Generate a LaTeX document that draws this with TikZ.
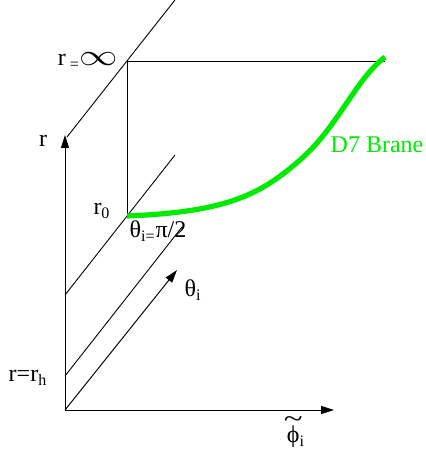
\documentclass[tikz,border=0pt]{standalone}
\usepackage{fontspec}
\setmainfont{Liberation Serif}
\usepackage{graphicx}
\usetikzlibrary{arrows.meta}
\definecolor{branegreen}{RGB}{0,235,0}
% wide tilde set above a glyph
\newcommand{\widetil}[1]{\ooalign{#1\cr\hidewidth\raisebox{0.62em}{\scalebox{1.45}[1.1]{\~{}}}\hidewidth\cr}}

\begin{document}
\begin{tikzpicture}[x=0.5pt, y=-0.5pt,
    % axes with filled triangular heads
    axis/.style={line width=0.5pt, -{Triangle[length=6.5pt,width=4pt]}},
    thinline/.style={line width=0.45pt},
    brane/.style={line width=2.6pt, draw=branegreen},
    lbl/.style={inner sep=0pt, font=\fontsize{12}{14}\selectfont}
]
\useasboundingbox (0,0) rectangle (425,454);

% 1. Points of the frame
\coordinate (O)      at (65,410);
\coordinate (rtip)   at (65,135);
\coordinate (phitip) at (334,410);
\coordinate (thtip)  at (177,270);
\coordinate (inf)    at (127,61);
\coordinate (infend) at (385,61);
\coordinate (r0)     at (127,216);

% 2. Axes r, phi and theta
\draw[axis] (O) -- (rtip);
\draw[axis] (O) -- (phitip);
\draw[axis] (O) -- (thtip);

% 3. Slanted lines at fixed r
\coordinate (ua) at (67,137);  \coordinate (ub) at (175,0);
\coordinate (ma) at (65,295);  \coordinate (mb) at (175,155);
\coordinate (la) at (65,376);  \coordinate (lb) at (182,227);
\draw[thinline] (ua) -- (ub);
\draw[thinline] (ma) -- (mb);
\draw[thinline] (la) -- (lb);

% 4. Box from r_0 up to r = infinity
\draw[thinline] (r0) -- (inf) -- (infend);

% 5. The D7 brane profile
\draw[brane] (r0) .. controls (230,212) and (262,193) .. (300,160)
                  .. controls (338,127) and (355,80) .. (385,57);

% 6. Labels
\node[lbl] (rlab)    at (43,141)  {r};
\node[lbl] (inflab)  at (88,61)   {r\,\textsubscript{=}\scalebox{1.6}[1.25]{$\infty$}};
\node[lbl] (r0lab)   at (102,211) {r\textsubscript{0}};
\node[lbl] (pilab)   at (158,231) {θ\textsubscript{i=}π/2};
\node[lbl] (thlab)   at (193,290) {θ\textsubscript{i}};
\node[lbl] (rhlab)   at (28,378)  {r=r\textsubscript{h}};
\node[lbl] (philab)  at (296,436) {\widetil{ϕ}\textsubscript{i}};
\node[lbl, text=branegreen] (branelab) at (377,145) {D7 Brane};

\end{tikzpicture}
\end{document}
